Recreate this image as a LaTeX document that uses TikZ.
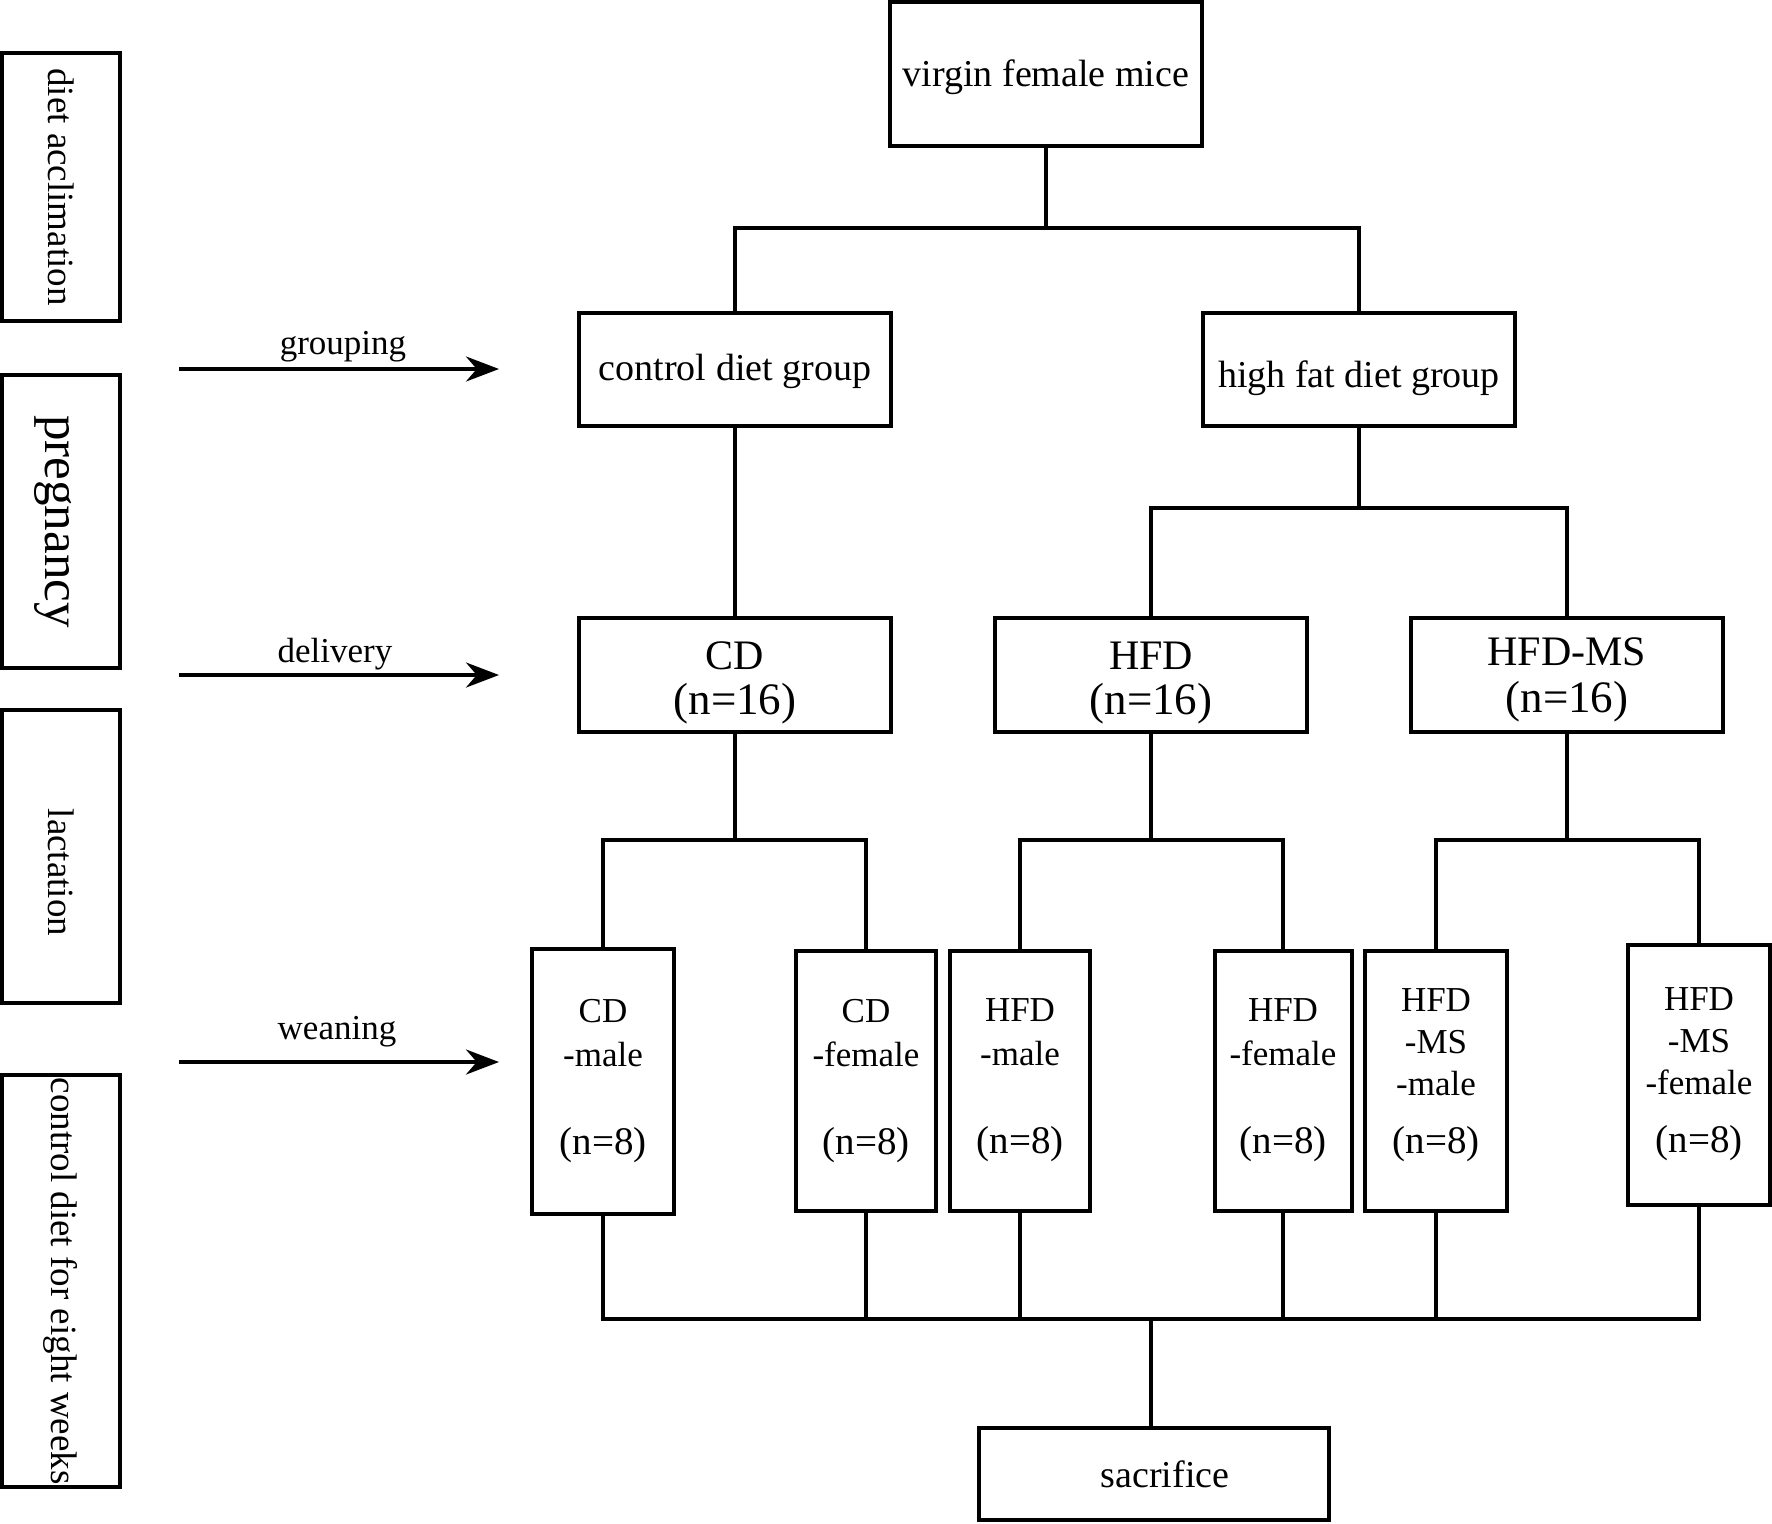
\documentclass[tikz,border=0pt]{standalone}
\usepackage{fontspec}
\setmainfont{Liberation Serif}
\usetikzlibrary{arrows.meta}
\newcommand{\fz}[2]{\fontsize{#1pt}{#2pt}\selectfont}
\begin{document}
\begin{tikzpicture}[x=0.5pt,y=-0.5pt,
  box/.style={draw, line width=2pt, inner sep=0pt, align=center},
  phase/.style={box, rotate=-90, minimum height=59pt, font=\fz{18.5}{22}},
  bigbox/.style={box, minimum width=156pt, minimum height=57pt},
  smallbox/.style={box, minimum width=71pt, minimum height=130pt, font=\fz{17.5}{22}},
  conn/.style={line width=1.7pt},
  arr/.style={line width=1.8pt, -{Stealth[length=16.5pt,width=12.5pt]}},
  lbl/.style={inner sep=0pt, font=\fz{17.5}{20}}]
\useasboundingbox (0,0) rectangle (1772,1523);

% phase boxes on the left
\node[phase, minimum width=134pt] (ph1) at (61,187) {diet acclimation};
\node[phase, minimum width=146.5pt, font=\fz{25.5}{28}] (ph2) at (61,521.5) {\rule{0pt}{21pt}pregnancy};
\node[phase, minimum width=146.5pt] (ph3) at (61,856.5) {\hspace*{16pt}lactation};
\node[phase, minimum width=206pt] (ph4) at (61,1281) {control diet for eight weeks};

% arrows
\coordinate (a1s) at (179,369);  \coordinate (a1e) at (499,369);
\coordinate (a2s) at (179,675); \coordinate (a2e) at (499,675);
\coordinate (a3s) at (179,1062); \coordinate (a3e) at (499,1062);
\draw[arr] (a1s) -- (a1e);
\draw[arr] (a2s) -- (a2e);
\draw[arr] (a3s) -- (a3e);
\node[lbl] (l1) at (343,347) {grouping};
\node[lbl] (l2) at (335,654) {delivery};
\node[lbl] (l3) at (337,1032) {weaning};

% main tree
\node[box, minimum width=156pt, minimum height=72pt, font=\fz{19}{22}] (vir) at (1046,74) {\rule{0pt}{17pt}virgin female mice};
\node[bigbox, minimum height=56.5pt, font=\fz{19}{22}] (cdg) at (735,369.5) {\rule{0pt}{15pt}control diet group};
\node[bigbox, minimum height=56.5pt, font=\fz{19}{22}] (hfg) at (1359,369.5) {\rule{0pt}{22pt}high fat diet group};

\node[bigbox, font=\fz{21}{22.5}] (cd) at (735,675) {\rule{0pt}{22pt}CD\\{\fz{22.5}{22.5}(n=16)}};
\node[bigbox, font=\fz{21}{22.5}] (hfd) at (1151,675) {\rule{0pt}{22pt}HFD\\{\fz{22.5}{22.5}(n=16)}};
\node[bigbox, font=\fz{21}{23.5}] (hms) at (1567,675) {\rule{0pt}{19pt}HFD-MS\\{\fz{22.5}{23.5}(n=16)}};

\node[smallbox, minimum height=132.5pt] (cdm) at (603,1081.5) {CD\\-male\\[22pt]{\fz{19.5}{22}(n=8)}};
\node[smallbox, minimum width=70pt] (cdf) at (866,1081) {CD\\-female\\[22pt]{\fz{19.5}{22}(n=8)}};
\node[smallbox, minimum width=70pt] (hfm) at (1020,1080.5) {HFD\\-male\\[22pt]{\fz{19.5}{22}(n=8)}};
\node[smallbox, minimum width=68.5pt] (hff) at (1283,1080.5) {HFD\\-female\\[22pt]{\fz{19.5}{22}(n=8)}};
\node[smallbox, font=\fz{17.5}{21}] (hmm) at (1436,1081) {HFD\\-MS\\-male\\[8pt]{\fz{19.5}{21}(n=8)}\rule[-10pt]{0pt}{0pt}};
\node[smallbox, font=\fz{17.5}{21}] (hmf) at (1699,1074.5) {HFD\\-MS\\-female\\[8pt]{\fz{19.5}{21}(n=8)}};

\node[box, minimum width=175pt, minimum height=46pt, font=\fz{19}{22}] (sac) at (1154,1474) {\hspace*{11pt}sacrifice};

% connectors
\coordinate (b1) at (1046,228);
\draw[conn] (vir.south) -- (b1);
\draw[conn] (cdg.north) |- (b1) -| (hfg.north);
\draw[conn] (cdg.south) -- (cd.north);
\coordinate (b2) at (1359,508);
\draw[conn] (hfg.south) -- (b2);
\draw[conn] (hfd.north) |- (b2) -| (hms.north);

\coordinate (b3) at (735,840);
\draw[conn] (cd.south) -- (b3);
\draw[conn] (cdm.north) |- (b3) -| (cdf.north);
\coordinate (b4) at (1151,840);
\draw[conn] (hfd.south) -- (b4);
\draw[conn] (hfm.north) |- (b4) -| (hff.north);
\coordinate (b5) at (1567,840);
\draw[conn] (hms.south) -- (b5);
\draw[conn] (hmm.north) |- (b5) -| (hmf.north);

\coordinate (b6) at (1151,1319);
\draw[conn] (cdm.south) |- (b6) -| (hmf.south);
\draw[conn] (cdf.south) -- (cdf.south |- b6);
\draw[conn] (hfm.south) -- (hfm.south |- b6);
\draw[conn] (hff.south) -- (hff.south |- b6);
\draw[conn] (hmm.south) -- (hmm.south |- b6);
\draw[conn] (b6) -- (b6 |- sac.north);
\end{tikzpicture}
\end{document}
